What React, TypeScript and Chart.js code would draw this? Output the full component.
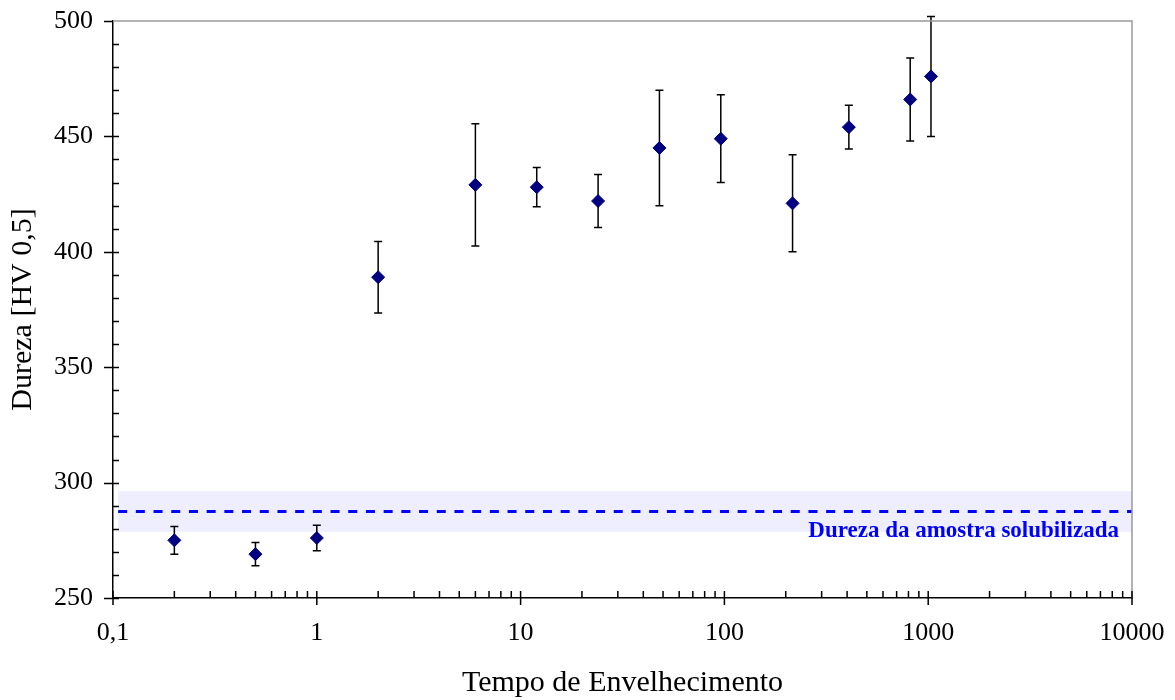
import React, { useEffect, useRef } from "react";
import { Chart, registerables } from "chart.js";

Chart.register(...registerables);

// ---- data ----
const agingTimes = [0.2, 0.5, 1, 2, 6, 12, 24, 48, 96, 216, 408, 816, 1032];
const hardness = [275, 269, 276, 389, 429, 428, 422, 445, 449, 421, 454, 466, 476];
const hardnessErr = [6, 5, 5.5, 15.5, 26.5, 8.5, 11.5, 25, 19, 21, 9.5, 18, 26];

const refHardness = 287.5;
const refHardnessErr = 8.8;
const refLineX = [0.106, 10000];
const refLabel = "Dureza da amostra solubilizada";

const xTickValues = [0.1, 1, 10, 100, 1000, 10000];
const yMin = 250;
const yMax = 500;
const yStep = 50;
const yMinorStep = 10;

const xTitle = "Tempo de Envelhecimento";
const yTitle = "Dureza [HV 0,5]";

const FONT = '"Liberation Serif", "Times New Roman", serif';

const bandPlugin = {
  id: "refBand",
  beforeDatasetsDraw(chart: any) {
    const { ctx, scales } = chart;
    const x = scales.x;
    const y = scales.y;
    const x0 = x.getPixelForValue(refLineX[0]);
    const x1 = x.getPixelForValue(refLineX[1]);
    const yTop = y.getPixelForValue(refHardness + refHardnessErr);
    const yBot = y.getPixelForValue(refHardness - refHardnessErr);
    ctx.save();
    ctx.fillStyle = "rgba(215,215,255,0.42)";
    ctx.fillRect(x0, yTop, x1 - x0, yBot - yTop);
    // error bars
    ctx.strokeStyle = "#000";
    ctx.lineWidth = 1.5;
    ctx.beginPath();
    for (let i = 0; i < agingTimes.length; i++) {
      const px = x.getPixelForValue(agingTimes[i]);
      const hi = y.getPixelForValue(hardness[i] + hardnessErr[i]);
      const lo = y.getPixelForValue(hardness[i] - hardnessErr[i]);
      ctx.moveTo(px, hi);
      ctx.lineTo(px, lo);
      ctx.moveTo(px - 4, hi);
      ctx.lineTo(px + 4, hi);
      ctx.moveTo(px - 4, lo);
      ctx.lineTo(px + 4, lo);
    }
    ctx.stroke();
    // label
    ctx.fillStyle = "#0000FF";
    ctx.font = `bold 23px ${FONT}`;
    ctx.textAlign = "right";
    ctx.textBaseline = "alphabetic";
    ctx.fillText(refLabel, chart.chartArea.right - 13, yBot + 5.5);
    ctx.restore();
  },
};

const axisPlugin = {
  id: "axisTicks",
  afterDraw(chart: any) {
    const { ctx, chartArea, scales } = chart;
    const { left, right, top, bottom } = chartArea;
    const x = scales.x;
    const y = scales.y;
    ctx.save();
    ctx.lineWidth = 1.5;
    ctx.strokeStyle = "#999";
    ctx.beginPath();
    ctx.moveTo(left, top);
    ctx.lineTo(right, top);
    ctx.lineTo(right, bottom);
    ctx.stroke();
    ctx.strokeStyle = "#000";
    ctx.beginPath();
    for (let v = yMin; v <= yMax; v += yMinorStep) {
      const py = Math.round(y.getPixelForValue(v)) + 0.5;
      const major = v % yStep === 0;
      ctx.moveTo(major ? left - 9 : left, py);
      ctx.lineTo(v === yMax ? left : left + 6, py);
    }
    for (let d = 0; d < xTickValues.length; d++) {
      const base = xTickValues[d];
      const px = x.getPixelForValue(base);
      ctx.moveTo(px, bottom + 7);
      ctx.lineTo(px, bottom - 7);
      if (d < xTickValues.length - 1) {
        for (let m = 2; m <= 9; m++) {
          const pm = x.getPixelForValue(base * m);
          ctx.moveTo(pm, bottom);
          ctx.lineTo(pm, bottom - 7);
        }
      }
    }
    ctx.stroke();
    ctx.restore();
  },
};

export default function App() {
  const ref = useRef<HTMLCanvasElement>(null);
  useEffect(() => {
    if (!ref.current) return;
    Chart.defaults.font.family = FONT;
    const chart = new Chart(ref.current, {
      type: "scatter",
      data: {
        datasets: [
          {
            type: "line",
            label: "ref",
            data: refLineX.map((v) => ({ x: v, y: refHardness })),
            borderColor: "#0000FF",
            borderWidth: 3,
            borderDash: [9, 8.7],
            pointRadius: 0,
            fill: false,
          } as any,
          {
            label: "Dureza",
            data: agingTimes.map((t, i) => ({ x: t, y: hardness[i] })),
            pointStyle: "rectRot",
            pointRadius: 6.5,
            pointBackgroundColor: "#000080",
            pointBorderColor: "#000080",
            pointBorderWidth: 1,
          },
        ],
      },
      options: {
        responsive: false,
        animation: false,
        layout: { padding: { top: 21, right: 43, left: 0, bottom: 0 } },
        plugins: { legend: { display: false }, tooltip: { enabled: false } },
        scales: {
          x: {
            type: "logarithmic",
            min: 0.1,
            max: 10000,
            afterBuildTicks: (scale: any) => {
              scale.ticks = xTickValues.map((v) => ({ value: v, major: true }));
            },
            afterFit: (scale: any) => {
              scale.height = 102;
              scale.paddingLeft = 0;
              scale.paddingRight = 0;
              scale.paddingTop = 0;
              scale.paddingBottom = 0;
            },
            grid: { display: false, drawTicks: false },
            border: { display: true, color: "#000", width: 1.5 },
            ticks: {
              autoSkip: false,
              maxRotation: 0,
              padding: 20,
              color: "#000",
              font: { size: 26, family: FONT },
              callback: (v: any) => String(v).replace(".", ","),
            },
            title: {
              display: true,
              text: xTitle,
              color: "#000",
              font: { size: 30, family: FONT },
              padding: { top: 0, bottom: -1 },
            },
          },
          y: {
            min: yMin,
            max: yMax,
            afterFit: (scale: any) => {
              scale.width = 113;
              scale.paddingLeft = 0;
              scale.paddingRight = 0;
              scale.paddingTop = 0;
              scale.paddingBottom = 0;
            },
            grid: { display: false, drawTicks: false },
            border: { display: true, color: "#000", width: 1.5 },
            ticks: {
              stepSize: yStep,
              padding: 20,
              color: "#000",
              font: { size: 26, family: FONT },
            },
            title: {
              display: true,
              text: yTitle,
              color: "#000",
              font: { size: 30, family: FONT },
              padding: { top: 5, bottom: 0 },
            },
          },
        },
      },
      plugins: [bandPlugin, axisPlugin],
    });
    return () => chart.destroy();
  }, []);
  return (
    <div style={{ position: "fixed", left: 0, top: 0, width: 1175, height: 700, background: "#fff" }}>
      <canvas ref={ref} width={1175} height={700} />
    </div>
  );
}
